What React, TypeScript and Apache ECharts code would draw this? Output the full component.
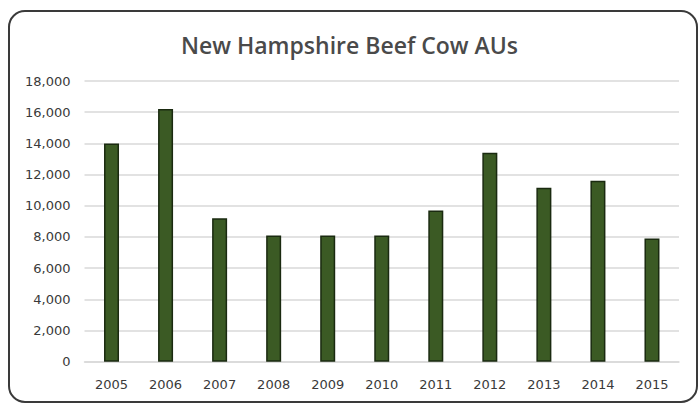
import React, { useEffect, useRef } from "react";
import * as echarts from "echarts";

const TITLE = "New Hampshire Beef Cow AUs";
const YEARS = ["2005", "2006", "2007", "2008", "2009", "2010", "2011", "2012", "2013", "2014", "2015"];
const AUS = [14000, 16200, 9200, 8100, 8100, 8100, 9700, 13400, 11150, 11600, 7900];
const Y_MIN = 0;
const Y_MAX = 18000;
const Y_STEP = 2000;

export default function App() {
  const ref = useRef<HTMLDivElement>(null);
  useEffect(() => {
    if (!ref.current) return;
    const chart = echarts.init(ref.current, null, { renderer: "svg" });
    chart.setOption({
      animation: false,
      backgroundColor: "#ffffff",
      title: {
        text: TITLE,
        left: "center",
        top: 28,
        textStyle: {
          fontFamily: "Open Sans",
          fontSize: 23,
          fontWeight: 600,
          color: "#4a4a4a",
        },
      },
      graphic: [
        {
          type: "rect",
          shape: { x: 9, y: 11, width: 688, height: 391, r: 16 },
          style: { fill: "none", stroke: "#3a3a3a", lineWidth: 2 },
          z: 100,
        },
      ],
      grid: { left: 84.5, right: 20, top: 81, bottom: 42.3, containLabel: false },
      xAxis: {
        type: "category",
        data: YEARS,
        axisLine: { show: true, lineStyle: { color: "#d9d9d9", width: 1.5 } },
        axisTick: { show: false },
        axisLabel: {
          margin: 16,
          fontFamily: "DejaVu Sans",
          fontSize: 13,
          color: "#3a3a3a",
        },
      },
      yAxis: {
        type: "value",
        min: Y_MIN,
        max: Y_MAX,
        interval: Y_STEP,
        axisLine: { show: false },
        axisTick: { show: false },
        splitLine: { lineStyle: { color: "#d9d9d9", width: 1.5 } },
        axisLabel: {
          margin: 14,
          fontFamily: "DejaVu Sans",
          fontSize: 13,
          color: "#3a3a3a",
          formatter: (v: number) => v.toLocaleString("en-US"),
        },
      },
      series: [
        {
          type: "bar",
          data: AUS,
          barWidth: 15,
          itemStyle: { color: "#3b5a24", borderColor: "#1a2a10", borderWidth: 1.5 },
        },
      ],
    });
    return () => chart.dispose();
  }, []);
  return (
    <div
      ref={ref}
      style={{ position: "fixed", left: 0, top: 0, width: 699, height: 404 }}
    />
  );
}
